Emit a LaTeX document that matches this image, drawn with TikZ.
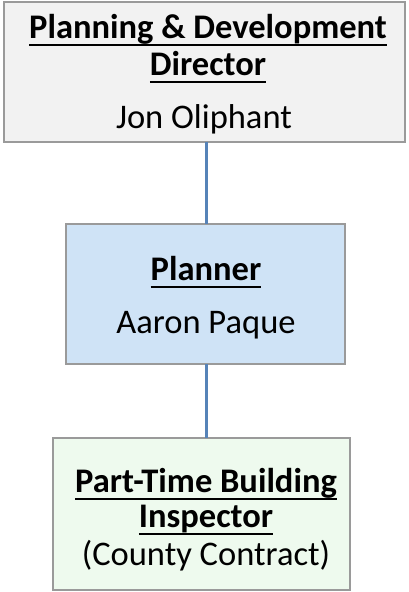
\documentclass[tikz,border=0pt]{standalone}
\usepackage{fontspec}
\setmainfont{Carlito}
\newcommand\ulx[1]{\leavevmode\setbox0\hbox{#1}\rlap{\rule[-8pt]{\wd0}{2pt}}\box0}
\definecolor{topfill}{HTML}{F2F2F2}
\definecolor{midfill}{HTML}{CFE3F6}
\definecolor{botfill}{HTML}{EEFAEE}
\definecolor{boxline}{HTML}{9A9A9A}
\definecolor{conn}{HTML}{5683B8}
\tikzset{
  orgbox/.style={draw=boxline, line width=1.5pt},
  lbl/.style={anchor=base, inner sep=0pt, font=\fontsize{34.5}{40}\selectfont},
  ttl/.style={lbl, font=\fontsize{34.5}{40}\selectfont\bfseries},
  link/.style={draw=conn, line width=3pt}
}
\begin{document}
\begin{tikzpicture}[x=1pt,y=-1pt]
\useasboundingbox (0,0) rectangle (409,592);
\fill[white] (0,0) rectangle (409,592);
% boxes
\draw[orgbox, fill=topfill] (4,2) rectangle (405,142);
\coordinate (topb) at (206,142);
\draw[orgbox, fill=midfill] (66,224) rectangle (345,364);
\coordinate (midt) at (206,224);
\coordinate (midb) at (206,364);
\draw[orgbox, fill=botfill] (53,438) rectangle (350,590);
\coordinate (bott) at (206,438);
% connectors
\draw[link] (topb) -- (midt);
\draw[link] (midb) -- (bott);
% texts
\node[ttl] (t1) at (208,38) {\ulx{Planning \& Development}};
\node[ttl] (t2) at (208,75) {\ulx{Director}};
\node[lbl] (t3) at (204,128) {Jon Oliphant};
\node[ttl] (m1) at (206,280) {\ulx{Planner}};
\node[lbl] (m2) at (206,333) {Aaron Paque};
\node[ttl] (b1) at (206,492) {\ulx{Part-Time Building}};
\node[ttl] (b2) at (206,527) {\ulx{Inspector}};
\node[lbl] (b3) at (206,565) {(County Contract)};
\end{tikzpicture}
\end{document}
